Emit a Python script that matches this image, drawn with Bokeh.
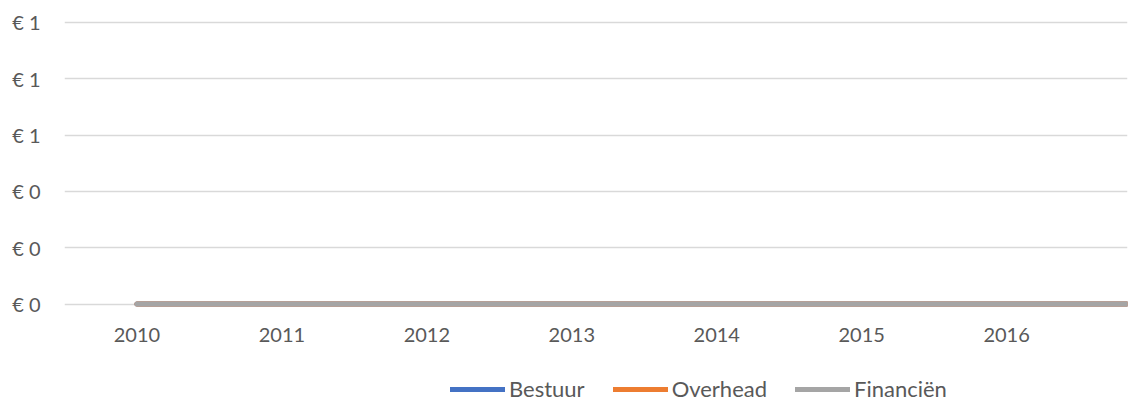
from bokeh.plotting import figure
from bokeh.layouts import column
from bokeh.models import (Range1d, FixedTicker, PrintfTickFormatter, Legend, LegendItem)
from bokeh.embed import file_html
from bokeh.resources import INLINE

years = [2010, 2011, 2012, 2013, 2014, 2015, 2016, 2017]
bestuur = [0, 0, 0, 0, 0, 0, 0, 0]
overhead = [0, 0, 0, 0, 0, 0, 0, 0]
financien = [0, 0, 0, 0, 0, 0, 0, 0]
series_names = ["Bestuur", "Overhead", "Financiën"]
series_colors = ["#4472C4", "#ED7D31", "#A5A5A5"]
y_ticks = [0, 0.2, 0.4, 0.6, 0.8, 1.0]
x_ticks = [2010, 2011, 2012, 2013, 2014, 2015, 2016]

FONT = "Lato"
TXT = "#595959"

p = figure(width=1141, height=366, output_backend="svg", toolbar_location=None,
           x_range=Range1d(2009.5, 2016.834), y_range=Range1d(-0.03, 1.01),
           min_border_left=64, min_border_right=14, min_border_top=19, min_border_bottom=54)
p.outline_line_color = None
p.background_fill_color = "white"
p.border_fill_color = "white"

p.yaxis.ticker = FixedTicker(ticks=y_ticks)
p.yaxis.formatter = PrintfTickFormatter(format="€ %.0f")
p.yaxis.axis_line_color = None
p.yaxis.major_tick_line_color = None
p.yaxis.minor_tick_line_color = None
p.yaxis.major_tick_out = 0
p.yaxis.major_label_standoff = 24
p.yaxis.major_label_text_font = FONT
p.yaxis.major_label_text_font_size = "20px"
p.yaxis.major_label_text_color = TXT

p.xaxis.ticker = FixedTicker(ticks=x_ticks)
p.xaxis.formatter = PrintfTickFormatter(format="%d")
p.xaxis.axis_line_color = None
p.xaxis.major_tick_line_color = None
p.xaxis.minor_tick_line_color = None
p.xaxis.major_tick_out = 0
p.xaxis.major_label_standoff = 15
p.xaxis.major_label_text_font = FONT
p.xaxis.major_label_text_font_size = "20px"
p.xaxis.major_label_text_color = TXT

p.xgrid.grid_line_color = None
p.ygrid.grid_line_color = "#d9d9d9"
p.ygrid.grid_line_width = 1.5

series_values = [bestuur, overhead, financien]
for vals, col in zip(series_values, series_colors):
    p.line(years, vals, line_color=col, line_width=5, line_cap="round", line_join="round")

# legend strip (its series lie outside its own range, only the legend shows)
p2 = figure(width=1141, height=40, output_backend="svg", toolbar_location=None,
            x_range=Range1d(0, 1), y_range=Range1d(0, 1),
            min_border_left=0, min_border_right=0, min_border_top=0, min_border_bottom=0)
p2.axis.visible = False
p2.grid.visible = False
p2.outline_line_color = None
p2.border_fill_color = "white"
items = []
for name, vals, col in zip(series_names, series_values, series_colors):
    rr = p2.line(years, vals, line_color=col, line_width=5, line_cap="round")
    items.append(LegendItem(label=name, renderers=[rr]))
legend = Legend(items=items, orientation="horizontal", location=(386, 4),
                glyph_width=55, glyph_height=20, label_standoff=4, spacing=28,
                padding=0, margin=0, border_line_color=None, background_fill_alpha=0,
                label_text_font=FONT, label_text_font_size="22px", label_text_color=TXT,
                label_height=20)
p2.add_layout(legend, "center")

layout = column(p, p2, spacing=0)
open("out.html", "w").write(file_html(layout, INLINE))
